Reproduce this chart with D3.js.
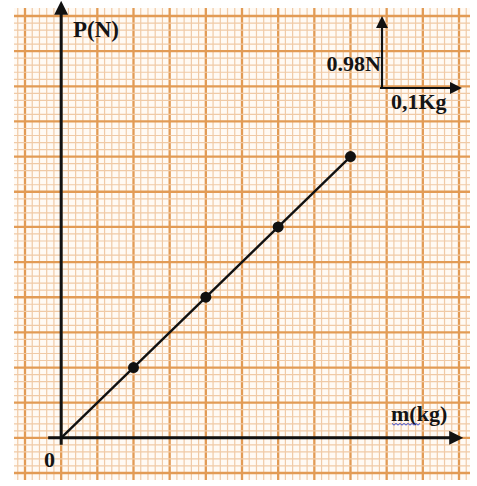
<!DOCTYPE html>
<html>
<head>
<meta charset="utf-8">
<script src="https://cdn.jsdelivr.net/npm/d3@7"></script>
<style>
  body { margin: 0; background: #fff; }
  svg text { font-family: "Liberation Serif", "Times New Roman", serif; font-weight: bold; fill: #141414; }
</style>
</head>
<body>
<svg id="chart" width="477" height="486"></svg>
<script>
// measured points
const masses = [0.1, 0.2, 0.3, 0.4];       // kg
const weights = [0.98, 1.96, 2.94, 3.92];  // N
const scaleMass = 0.1;
const scaleWeight = 0.98;

const paper = { left: 14, right: 470, top: 8, bottom: 480 };

const svg = d3.select('#chart');

// one major square = 0.05 kg horizontally, 0.49 N vertically
const x = d3.scaleLinear().domain([-0.05, 0.55]).range([25, 459]);
const y = d3.scaleLinear().domain([-0.49, 5.88]).range([473, 16]);

svg.append('rect')
    .attr('x', paper.left).attr('y', paper.top)
    .attr('width', paper.right - paper.left).attr('height', paper.bottom - paper.top)
    .attr('fill', '#fffaf4');

// graph paper: 5 minor lines per major
const xMinor = d3.range(-6, 57).map(i => i / 100);
const yMinor = d3.range(-6, 61).map(i => i * 0.098);

const isMajorX = d => Math.round(d * 100) % 5 === 0;
const isMajorY = d => Math.round(d / 0.098) % 5 === 0;

const grid = svg.append('g');
grid.selectAll('line.vx')
    .data(xMinor.filter(d => x(d) >= paper.left && x(d) <= paper.right))
    .enter()
    .append('line')
    .attr('x1', d => x(d)).attr('x2', d => x(d))
    .attr('y1', paper.top).attr('y2', paper.bottom)
    .attr('stroke', d => isMajorX(d) ? '#e29b55' : '#f0caa6')
    .attr('stroke-width', d => isMajorX(d) ? 2.3 : 1.2);

grid.selectAll('line.hy')
    .data(yMinor.filter(d => y(d) >= paper.top && y(d) <= paper.bottom))
    .enter()
    .append('line')
    .attr('y1', d => y(d)).attr('y2', d => y(d))
    .attr('x1', paper.left).attr('x2', paper.right)
    .attr('stroke', d => isMajorY(d) ? '#e29b55' : '#f0caa6')
    .attr('stroke-width', d => isMajorY(d) ? 2.3 : 1.2);

const defs = svg.append('defs');
function arrowMarker(id, size) {
    defs.append('marker')
        .attr('id', id)
        .attr('viewBox', '0 0 10 10')
        .attr('refX', 2).attr('refY', 5)
        .attr('markerWidth', size).attr('markerHeight', size)
        .attr('markerUnits', 'userSpaceOnUse')
        .attr('orient', 'auto')
        .append('path')
        .attr('d', 'M0,0 L10,5 L0,10 z')
        .attr('fill', '#111');
}
arrowMarker('arrowBig', 14);
arrowMarker('arrowSmall', 12);

// main axes
svg.append('line')
    .attr('x1', x(0)).attr('y1', y(0) + 7)
    .attr('x2', x(0)).attr('y2', 12)
    .attr('stroke', '#111').attr('stroke-width', 3)
    .attr('marker-end', 'url(#arrowBig)');
svg.append('line')
    .attr('x1', x(0) - 13).attr('y1', y(0))
    .attr('x2', 452).attr('y2', y(0))
    .attr('stroke', '#111').attr('stroke-width', 3)
    .attr('marker-end', 'url(#arrowBig)');

// fitted line through origin
const line = d3.line().x(d => x(d[0])).y(d => y(d[1]));
svg.append('path')
    .attr('d', line([[0, 0], [masses[masses.length - 1], weights[weights.length - 1]]]))
    .attr('stroke', '#111').attr('stroke-width', 2.4).attr('fill', 'none');

svg.append('g').selectAll('circle')
    .data(masses)
    .enter()
    .append('circle')
    .attr('cx', d => x(d))
    .attr('cy', (d, i) => y(weights[i]))
    .attr('r', 5.5)
    .attr('fill', '#111');

// scale legend
const lx = 382, ly = 88;
svg.append('line')
    .attr('x1', lx).attr('y1', ly)
    .attr('x2', lx).attr('y2', ly - (y(0) - y(scaleWeight)) + 8)
    .attr('stroke', '#111').attr('stroke-width', 2.2)
    .attr('marker-end', 'url(#arrowSmall)');
svg.append('line')
    .attr('x1', lx - 2).attr('y1', ly)
    .attr('x2', lx + (x(scaleMass) - x(0)) - 2).attr('y2', ly)
    .attr('stroke', '#111').attr('stroke-width', 2.2)
    .attr('marker-end', 'url(#arrowSmall)');

svg.append('text').attr('x', 73).attr('y', 37).style('font-size', '23px').text('P(N)');
svg.append('text').attr('x', 44).attr('y', 467).style('font-size', '22px').text('0');
svg.append('text').attr('x', 391).attr('y', 421).style('font-size', '22px').text('m(kg)');
svg.append('text').attr('x', 381).attr('y', 71).attr('text-anchor', 'end').style('font-size', '22px').text('0.98N');
svg.append('text').attr('x', 391).attr('y', 109).style('font-size', '22px').text('0,1Kg');

// spell-check squiggle under the label
const squiggle = d3.range(0, 15).map(i => [392 + i * 2, 424 + (i % 2 ? 1.2 : -0.6)]);
svg.append('path')
    .attr('d', d3.line()(squiggle))
    .attr('stroke', '#3a4bd0').attr('stroke-width', 1).attr('fill', 'none');
</script>
</body>
</html>
